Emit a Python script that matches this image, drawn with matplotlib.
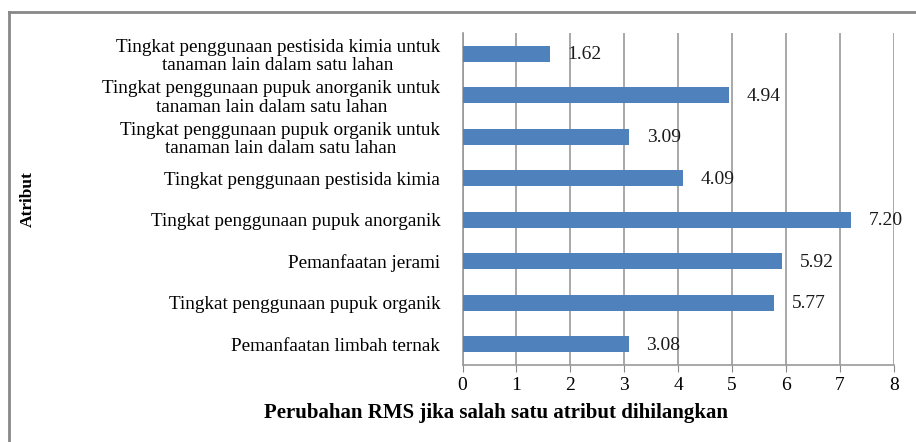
import matplotlib.pyplot as plt
from matplotlib.lines import Line2D

# data (bottom to top as drawn)
labels = [
    "Pemanfaatan limbah ternak",
    "Tingkat penggunaan pupuk organik",
    "Pemanfaatan jerami",
    "Tingkat penggunaan pupuk anorganik",
    "Tingkat penggunaan pestisida kimia",
    "Tingkat penggunaan pupuk organik untuk\ntanaman lain dalam satu lahan",
    "Tingkat penggunaan pupuk anorganik untuk\ntanaman lain dalam satu lahan",
    "Tingkat penggunaan pestisida kimia untuk\ntanaman lain dalam satu lahan",
]
values = [3.08, 5.77, 5.92, 7.20, 4.09, 3.09, 4.94, 1.62]
xticks = [0, 1, 2, 3, 4, 5, 6, 7, 8]

plt.rcParams['font.family'] = ['Liberation Serif', 'DejaVu Serif']

W, H = 916, 442
fig = plt.figure(figsize=(W / 100, H / 100), dpi=100)
ax = fig.add_axes([462.5 / W, 1 - 365 / H, (894 - 462.5) / W, (365 - 33) / H])

pos = list(range(len(labels)))
ax.barh(pos, values, height=0.39, color='#4f81bd', zorder=3)
for p, v in zip(pos, values):
    ax.text(v + 0.33, p - 0.03, f"{v:.2f}", va='center', ha='left', fontsize=14, color='#1a1a1a')

ax.set_xlim(0, 8)
ax.set_ylim(-0.5, len(labels) - 0.5)
ax.set_xticks(xticks)
ax.set_xticklabels([str(t) for t in xticks], fontsize=14)
ax.set_yticks(pos)
ax.set_yticklabels(labels, fontsize=13.8, multialignment='center', linespacing=1.12)
ax.tick_params(axis='y', length=0, pad=16)
ax.tick_params(axis='x', length=5, color='#888888', pad=4)
ax.grid(axis='x', color='#999999', linewidth=1.2, zorder=0)
for s in ['top', 'right']:
    ax.spines[s].set_visible(False)
for s in ['left', 'bottom']:
    ax.spines[s].set_color('#999999')
    ax.spines[s].set_linewidth(1.2)

fig.text(28 / W, 1 - 199 / H, "Atribut", rotation=90, ha='center', va='center',
         fontsize=12.5, fontweight='bold')
fig.text(496 / W, 1 - 413 / H, "Perubahan RMS jika salah satu atribut dihilangkan",
         ha='center', va='center', fontsize=15, fontweight='bold')

# outer chart border (top and left visible)
fig.add_artist(Line2D([8.5 / W, 1.0], [1 - 12 / H, 1 - 12 / H], color='#888888', linewidth=2,
                      transform=fig.transFigure))
fig.add_artist(Line2D([8.5 / W, 8.5 / W], [1 - 12 / H, 0], color='#888888', linewidth=2,
                      transform=fig.transFigure))

fig.savefig("out.png", dpi=100)
